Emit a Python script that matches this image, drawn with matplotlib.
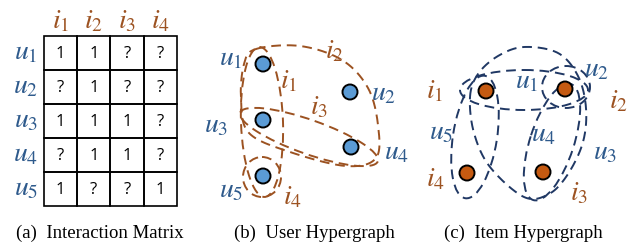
import numpy as np
import matplotlib
matplotlib.use("Agg")
import matplotlib.pyplot as plt
from matplotlib.patches import Ellipse, Circle, Rectangle

plt.rcParams['mathtext.fontset'] = 'stix'

# colours
brown = '#9C5221'
blue = '#2E5A8C'
node_blue = '#5B9BD5'
node_orange = '#C55A11'

# interaction matrix (1 = observed, ? = unknown)
users = ['u_1', 'u_2', 'u_3', 'u_4', 'u_5']
items = ['i_1', 'i_2', 'i_3', 'i_4']
matrix = [['1', '1', '?', '?'],
          ['?', '1', '?', '?'],
          ['1', '1', '1', '?'],
          ['?', '1', '1', '?'],
          ['1', '?', '?', '1']]

captions = ['(a)  Interaction Matrix', '(b)  User Hypergraph', '(c)  Item Hypergraph']

# user hypergraph: node positions and label positions (pixels)
user_nodes_x = [263, 350, 263, 351, 263]
user_nodes_y = [64, 92, 120, 147, 176]
user_lab_x = [231, 384, 216, 397, 231]
user_lab_y = [57, 92, 124, 151, 189]
# item hyperedges on user graph
uh_edge_lab_x = [289, 334, 319, 292]
uh_edge_lab_y = [80, 50, 106, 196]
i2_outline = [(256, 49), (300, 46), (342, 60), (368, 88), (378, 125), (376, 158),
              (346, 166), (290, 152), (249, 133), (241, 100), (244, 64)]

# item hypergraph: node positions and labels
item_nodes_x = [486, 565, 543, 467]
item_nodes_y = [91, 89, 172, 173]
item_lab_x = [435, 618, 579, 435]
item_lab_y = [90, 100, 192, 178]
ih_edge_lab_x = [527, 597, 605, 544, 441]
ih_edge_lab_y = [80, 68, 151, 133, 131]
u3_outline = [(470, 97), (478, 74), (498, 56), (524, 47), (558, 53), (578, 76),
              (586, 108), (583, 142), (568, 174), (549, 194), (524, 197), (490, 167),
              (474, 133)]


def closed_spline(pts, n=30):
    pts = np.asarray(pts, float)
    P = np.vstack([pts[-1], pts, pts[0], pts[1]])
    segs = []
    t = np.linspace(0, 1, n, endpoint=False)[:, None]
    for k in range(1, len(pts) + 1):
        p0, p1, p2, p3 = P[k - 1], P[k], P[k + 1], P[k + 2]
        segs.append(0.5 * (2 * p1 + (-p0 + p2) * t + (2 * p0 - 5 * p1 + 4 * p2 - p3) * t ** 2
                           + (-p0 + 3 * p1 - 3 * p2 + p3) * t ** 3))
    segs.append(segs[0][:1])
    return np.vstack(segs)


fig = plt.figure(figsize=(6.41, 2.48), dpi=100)
ax = fig.add_axes([0, 0, 1, 1])
ax.set_xlim(0, 641)
ax.set_ylim(248, 0)
ax.axis('off')

ls = (0, (5, 3))
dash = dict(fill=False, linestyle=ls, linewidth=1.4)
lab_fs = 20

# ---- (a) interaction matrix
x0, y0, cw, ch = 44, 36, 33.2, 34
for r, row in enumerate(matrix):
    for c, val in enumerate(row):
        ax.add_patch(Rectangle((x0 + c * cw, y0 + r * ch), cw, ch, fill=False,
                               edgecolor='black', linewidth=1.2))
        ax.text(x0 + (c + 0.5) * cw, y0 + (r + 0.5) * ch + 1, val, ha='center', va='center',
                fontsize=12, family='Open Sans', color='black')
for c, it in enumerate(items):
    ax.text(x0 + (c + 0.5) * cw, 20, f'${it}$', ha='center', va='center',
            fontsize=lab_fs, color=brown)
for r, u in enumerate(users):
    ax.text(26, y0 + (r + 0.5) * ch - 2, f'${u}$', ha='center', va='center',
            fontsize=lab_fs, color=blue)

# ---- (b) user hypergraph
bc = dict(dash, edgecolor=brown)
ax.add_patch(Ellipse((262, 122), 42, 150, angle=-2, **bc))          # i1
ax.add_patch(Ellipse((262, 177), 38, 40, **bc))                     # i4
ax.add_patch(Ellipse((309, 137), 146, 34, angle=19.5, **bc))       # i3
pts = closed_spline(i2_outline)
ax.plot(pts[:, 0], pts[:, 1], color=brown, linestyle=ls, linewidth=1.4)  # i2
for x, y in zip(user_nodes_x, user_nodes_y):
    ax.add_patch(Circle((x, y), 7.5, facecolor=node_blue, edgecolor='black', linewidth=1.4, zorder=5))
for lab, x, y in zip(users, user_lab_x, user_lab_y):
    ax.text(x, y, f'${lab}$', ha='center', va='center', fontsize=lab_fs, color=blue)
for lab, x, y in zip(items, uh_edge_lab_x, uh_edge_lab_y):
    ax.text(x, y, f'${lab}$', ha='center', va='center', fontsize=lab_fs, color=brown)

# ---- (c) item hypergraph
cc = dict(dash, edgecolor='#203864')
ax.add_patch(Ellipse((524, 90), 128, 40, **cc))                     # u1
ax.add_patch(Ellipse((566, 87), 48, 42, **cc))                      # u2
ax.add_patch(Ellipse((552, 142), 122, 44, angle=-72, **cc))         # u4
ax.add_patch(Ellipse((475, 137), 124, 44, angle=-81, **cc))         # u5
pts = closed_spline(u3_outline)
ax.plot(pts[:, 0], pts[:, 1], color='#203864', linestyle=ls, linewidth=1.4)  # u3
for x, y in zip(item_nodes_x, item_nodes_y):
    ax.add_patch(Circle((x, y), 7.5, facecolor=node_orange, edgecolor='black', linewidth=1.4, zorder=5))
for lab, x, y in zip(items, item_lab_x, item_lab_y):
    ax.text(x, y, f'${lab}$', ha='center', va='center', fontsize=lab_fs, color=brown)
for lab, x, y in zip(users, ih_edge_lab_x, ih_edge_lab_y):
    ax.text(x, y, f'${lab}$', ha='center', va='center', fontsize=lab_fs, color=blue)

# ---- captions
for cap, x in zip(captions, [100, 314, 523]):
    ax.text(x, 233, cap, ha='center', va='center', fontsize=13.5, family='Liberation Serif')

fig.savefig('out.png', dpi=100)
